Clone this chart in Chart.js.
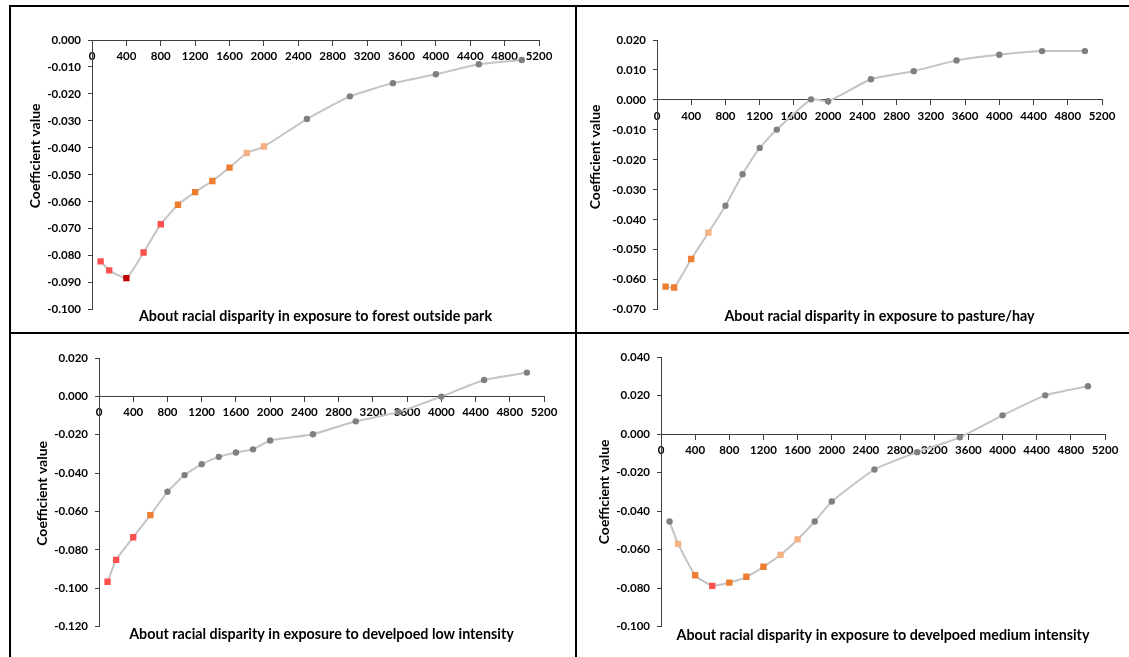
<!DOCTYPE html>
<html lang="en">
<head>
    <meta charset="UTF-8">
    <title>Racial disparity coefficients by distance</title>
    <script src="https://cdn.jsdelivr.net/npm/chart.js"></script>
    <style>
        body {
            margin: 0;
            background: #fff;
            width: 1129px;
            height: 657px;
            overflow: hidden;
            position: relative;
        }
        .panel {
            position: absolute;
        }
        .rule {
            position: absolute;
            background: #000;
        }
    </style>
</head>
<body>
    <div class="rule" style="left:9px;top:5px;width:1120px;height:2px"></div>
    <div class="rule" style="left:9px;top:5px;width:2px;height:652px"></div>
    <div class="rule" style="left:575px;top:5px;width:2px;height:652px"></div>
    <div class="rule" style="left:9px;top:332px;width:1120px;height:2px"></div>

    <div class="panel" style="left:11px;top:7px;width:564px;height:325px"><canvas id="forest"></canvas></div>
    <div class="panel" style="left:577px;top:7px;width:552px;height:325px"><canvas id="pasture"></canvas></div>
    <div class="panel" style="left:11px;top:334px;width:564px;height:323px"><canvas id="lowDev"></canvas></div>
    <div class="panel" style="left:577px;top:334px;width:552px;height:323px"><canvas id="medDev"></canvas></div>

    <script>
        // distance bands (x) shared by all four panels
        const distances = [100, 200, 400, 600, 800, 1000, 1200, 1400, 1600, 1800, 2000, 2500, 3000, 3500, 4000, 4500, 5000];
        const xAxisRange = [0, 5200, 400];

        // coefficient values
        const forestValues  = [-0.0821, -0.0854, -0.0883, -0.0788, -0.0683, -0.0611, -0.0564, -0.0523, -0.0473, -0.0419, -0.0395, -0.0293, -0.0209, -0.0160, -0.0127, -0.0090, -0.0074];
        const pastureValues = [-0.0623, -0.0626, -0.0531, -0.0443, -0.0353, -0.0248, -0.0160, -0.0099, null, 0.0002, -0.0004, 0.0069, 0.0096, 0.0132, 0.0151, 0.0163, 0.0163];
        const lowDevValues  = [-0.0966, -0.0852, -0.0734, -0.0619, -0.0497, -0.0410, -0.0353, -0.0315, -0.0292, -0.0276, -0.0230, -0.0197, -0.0130, -0.0082, -0.0001, 0.0085, 0.0124];
        const medDevValues  = [-0.0454, -0.0570, -0.0733, -0.0788, -0.0771, -0.0741, -0.0689, -0.0627, -0.0547, -0.0454, -0.0350, -0.0184, -0.0094, -0.0017, 0.0097, 0.0201, 0.0248];

        // marker class per point (0 = grey dot, 1..4 = light orange .. dark red)
        const forestLevels  = [3, 3, 4, 3, 3, 2, 2, 2, 2, 1, 1, 0, 0, 0, 0, 0, 0];
        const pastureLevels = [2, 2, 2, 1, 0, 0, 0, 0, 0, 0, 0, 0, 0, 0, 0, 0, 0];
        const lowDevLevels  = [3, 3, 3, 2, 0, 0, 0, 0, 0, 0, 0, 0, 0, 0, 0, 0, 0];
        const medDevLevels  = [0, 1, 2, 3, 2, 2, 2, 1, 1, 0, 0, 0, 0, 0, 0, 0, 0];

        // y axis [min, max, step]
        const forestAxis  = [-0.100, 0.000, 0.010];
        const pastureAxis = [-0.070, 0.020, 0.010];
        const lowDevAxis  = [-0.120, 0.020, 0.020];
        const medDevAxis  = [-0.100, 0.040, 0.020];

        const panelTitles = [
            "About racial disparity in exposure to forest outside park",
            "About racial disparity in exposure to pasture/hay",
            "About racial disparity in exposure to develpoed low intensity",
            "About racial disparity in exposure to develpoed medium intensity"
        ];
        const yTitle = "Coefficient value";

        const markerStyles = [
            { shape: "circle", r: 3.2, color: "#808080" },
            { shape: "rect", r: 4.5, color: "#f4b183" },
            { shape: "rect", r: 4.5, color: "#ed7d31" },
            { shape: "rect", r: 4.5, color: "#ff5050" },
            { shape: "rect", r: 4.5, color: "#c00000" }
        ];

        const fontFamily = "Lato, 'Open Sans', sans-serif";
        Chart.defaults.font.family = fontFamily;
        const axisColor = "#404040";
        const tickFont = { size: 11.5, weight: "bold" };

        // vertical axis title, drawn next to the y scale (the original sits a bit above centre on the top row)
        const axisTitle = {
            id: "axisTitle",
            afterDraw(chart, args, opts) {
                const { ctx, chartArea, scales } = chart;
                ctx.save();
                ctx.font = "bold 14px " + fontFamily;
                ctx.fillStyle = "#000";
                ctx.textAlign = "center";
                ctx.textBaseline = "middle";
                ctx.translate(scales.y.left + 8.5, (chartArea.top + chartArea.bottom) / 2 + opts.shift);
                ctx.rotate(-Math.PI / 2);
                ctx.fillText(opts.text, 0, 0);
                ctx.restore();
            }
        };

        function fmtY(v) {
            return Math.abs(v) < 1e-9 ? "0.000" : v.toFixed(3);
        }

        function buildChart(id, values, levels, yAxis, title, lay) {
            const points = distances.map((d, i) => ({ x: d, y: values[i] }));
            const marks = levels.map(l => markerStyles[l]);

            return new Chart(document.getElementById(id), {
                type: "scatter",
                data: {
                    datasets: [{
                        data: points,
                        showLine: true,
                        spanGaps: true,
                        tension: 0.15,
                        borderColor: "#c4c4c4",
                        borderWidth: 2,
                        pointStyle: marks.map(m => m.shape),
                        pointRadius: marks.map(m => m.r),
                        pointHoverRadius: marks.map(m => m.r),
                        pointBackgroundColor: marks.map(m => m.color),
                        pointBorderColor: marks.map(m => m.color),
                        pointBorderWidth: 0
                    }]
                },
                plugins: [axisTitle],
                options: {
                    responsive: true,
                    maintainAspectRatio: false,
                    animation: false,
                    layout: { padding: lay.pad },
                    plugins: {
                        legend: { display: false },
                        tooltip: { enabled: false },
                        axisTitle: { text: yTitle, shift: lay.yTitleShift },
                        title: {
                            display: true,
                            text: title,
                            position: "bottom",
                            fullSize: false,
                            color: "#000",
                            font: { size: 14.3, weight: "bold", lineHeight: 1 },
                            padding: { top: lay.titlePad, bottom: 0 }
                        }
                    },
                    scales: {
                        x: {
                            type: "linear",
                            position: { y: 0 },
                            min: xAxisRange[0],
                            max: xAxisRange[1],
                            z: 1,
                            grid: { drawOnChartArea: false, tickLength: 5, color: axisColor },
                            border: { color: axisColor },
                            ticks: {
                                stepSize: xAxisRange[2],
                                autoSkip: false,
                                maxRotation: 0,
                                padding: 4,
                                color: "#000",
                                font: tickFont,
                                showLabelBackdrop: true,
                                backdropColor: "#fff",
                                backdropPadding: 1,
                                callback: v => String(v)
                            }
                        },
                        y: {
                            type: "linear",
                            min: yAxis[0],
                            max: yAxis[1],
                            grid: { drawOnChartArea: false, tickLength: 4, color: axisColor },
                            border: { color: axisColor },
                            ticks: {
                                stepSize: yAxis[2],
                                padding: 7,
                                color: "#000",
                                font: tickFont,
                                callback: fmtY
                            },
                            afterFit: s => { s.width = lay.yWidth; }
                        }
                    }
                }
            });
        }

        buildChart("forest", forestValues, forestLevels, forestAxis, panelTitles[0],
            { pad: { left: 16, top: 33, right: 36, bottom: 8 }, yWidth: 65, titlePad: 0, yTitleShift: -19 });
        buildChart("pasture", pastureValues, pastureLevels, pastureAxis, panelTitles[1],
            { pad: { left: 10, top: 33, right: 27, bottom: 8 }, yWidth: 70, titlePad: 0, yTitleShift: -18 });
        buildChart("lowDev", lowDevValues, lowDevLevels, lowDevAxis, panelTitles[2],
            { pad: { left: 23, top: 24, right: 31, bottom: 15 }, yWidth: 65, titlePad: 1, yTitleShift: 1 });
        buildChart("medDev", medDevValues, medDevLevels, medDevAxis, panelTitles[3],
            { pad: { left: 19, top: 23, right: 24, bottom: 14 }, yWidth: 65, titlePad: 2, yTitleShift: 0 });
    </script>
</body>
</html>
